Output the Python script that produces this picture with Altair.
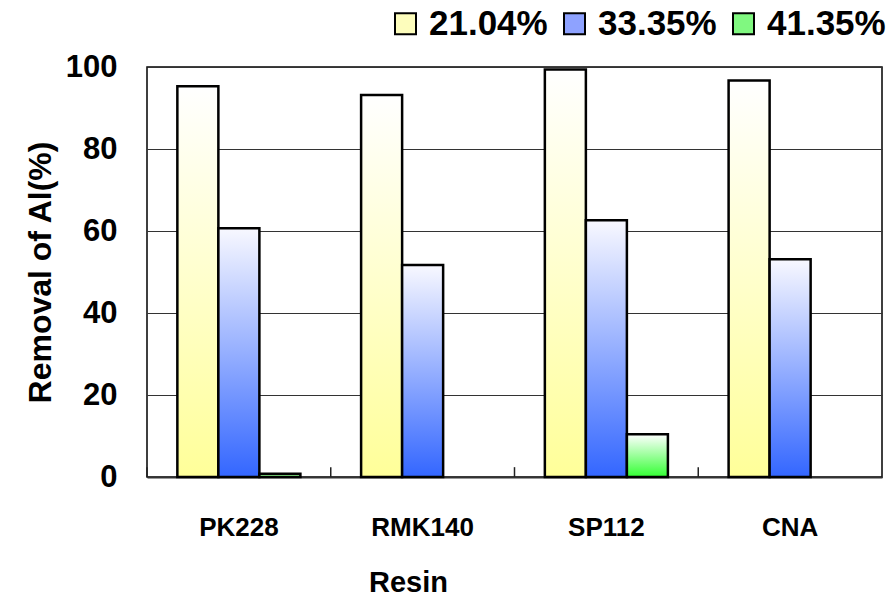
import altair as alt
import pandas as pd

# Aluminium removal by each resin at three concentrations
resins = ["PK228", "RMK140", "SP112", "CNA"]
series = ["21.04%", "33.35%", "41.35%"]
removal_2104 = [95.3, 93.2, 99.4, 96.7]
removal_3335 = [60.7, 51.7, 62.6, 53.1]
removal_4135 = [0.8, None, 10.4, None]

rows = []
for s, vals in zip(series, [removal_2104, removal_3335, removal_4135]):
    for r, v in zip(resins, vals):
        rows.append({"Resin": r, "series": s, "removal": v})
df = pd.DataFrame(rows)
ticks_df = pd.DataFrame({"Resin": resins})

FONT = "Liberation Sans"


def vgrad(top, bottom):
    return alt.Gradient(
        gradient="linear",
        x1=0, x2=0, y1=0, y2=1,
        stops=[alt.GradientStop(color=top, offset=0),
               alt.GradientStop(color=bottom, offset=1)],
    )


fills = {
    "21.04%": vgrad("#ffffff", "#ffff99"),
    "33.35%": vgrad("#f8f8ff", "#3366ff"),
    "41.35%": vgrad("#ffffff", "#33ff33"),
}
legend_colors = ["#fdfdbc", "#8ea2ff", "#80f880"]

x_axis = alt.Axis(
    title="Resin",
    labelAngle=0,
    labelFont=FONT,
    labelFontSize=26,
    labelFontWeight="bold",
    labelColor="black",
    labelPadding=37,
    ticks=False,
    domainColor="#333333",
    domainWidth=2,
    titleFont=FONT,
    titleFontSize=29,
    titleFontWeight="bold",
    titleColor="black",
    titleX=261,
    titleY=114,
    titleBaseline="alphabetic",
)
x_scale = alt.Scale(paddingInner=0, paddingOuter=0)

x_enc = alt.X("Resin:N", sort=resins, scale=x_scale, axis=x_axis)
xoff_enc = alt.XOffset(
    "series:N",
    scale=alt.Scale(domain=series, paddingInner=0, paddingOuter=0.74),
)
y_enc = alt.Y(
    "removal:Q",
    scale=alt.Scale(domain=[0, 100]),
    axis=alt.Axis(
        title="Removal of Al(%)",
        values=[0, 20, 40, 60, 80, 100],
        labelFont=FONT,
        labelFontSize=31,
        labelFontWeight="bold",
        labelColor="black",
        labelPadding=30,
        ticks=False,
        domain=False,
        grid=True,
        gridColor="#333333",
        gridWidth=1,
        titleFont=FONT,
        titleFontSize=32,
        titleFontWeight="bold",
        titleColor="black",
        titlePadding=8,
    ),
)

base = alt.Chart(df).encode(x=x_enc, xOffset=xoff_enc, y=y_enc)

bar_layers = [
    base.transform_filter(alt.datum.series == s).mark_bar(
        fill=fills[s], stroke="black", strokeWidth=2.5, strokeJoin="miter"
    )
    for s in series
]

# short category-separator ticks rising from the baseline
sep_ticks = alt.Chart(ticks_df).mark_rule(color="#222222", strokeWidth=1.5).encode(
    x=alt.X("Resin:N", sort=resins, scale=x_scale, axis=x_axis, bandPosition=0),
    y=alt.datum(0),
    y2=alt.datum(2.4),
)

legend_layer = base.mark_square(opacity=0, size=10).encode(
    fill=alt.Fill(
        "series:N",
        scale=alt.Scale(domain=series, range=legend_colors),
        legend=alt.Legend(
            title=None,
            orient="none",
            legendX=241,
            legendY=-61,
            direction="horizontal",
            padding=0,
            symbolType="square",
            symbolSize=441,
            symbolStrokeColor="black",
            symbolStrokeWidth=2,
            symbolOpacity=1,
            labelFont=FONT,
            labelFontSize=35,
            labelFontWeight="bold",
            labelColor="black",
            labelOffset=6,
            columnPadding=9,
        ),
    )
)

chart = (
    alt.layer(sep_ticks, *bar_layers, legend_layer)
    .properties(
        width=735,
        height=410,
        autosize=alt.AutoSizeParams(type="none"),
        padding={"left": 147, "top": 67, "right": 9, "bottom": 119},
        background="white",
    )
    .configure_view(stroke="black", strokeWidth=1.5)
)

chart.save("out.html", embed_options={"renderer": "svg", "actions": False})
